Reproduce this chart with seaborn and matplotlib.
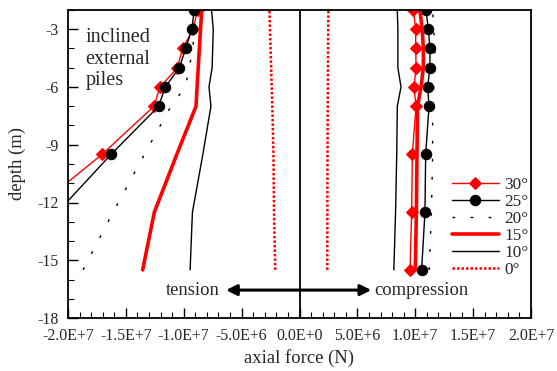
import numpy as np
import pandas as pd
import matplotlib
matplotlib.use("Agg")
import matplotlib.pyplot as plt
import seaborn as sns

# ---------------- data (axial force in units of 1E6 N) ----------------
depths = [-2, -3, -4, -5, -6, -7, -9.5, -12.5, -15.5]
angles = ["30°", "25°", "20°", "15°", "10°", "0°"]

tension_30 = [-8.8, -9.2, -10.1, -10.55, -12.05, -12.57, -17.06, -23.2, -29.3]
tension_25 = [-9.1, -9.3, -9.83, -10.38, -11.6, -12.17, -16.28, -20.9, -25.5]
tension_20 = [-8.9, -9.05, -9.23, -9.52, -9.87, -11.1, -13.4, -16.1, -18.7]
tension_15 = [-8.45, -8.55, -8.65, -8.75, -8.85, -8.94, -10.6, -12.54, -13.55]
tension_10 = [-7.6, -7.45, -7.5, -7.55, -7.82, -7.65, -8.35, -9.25, -9.45]
tension_0 = [-2.6, -2.55, -2.5, -2.45, -2.4, -2.35, -2.25, -2.2, -2.1]

compression_30 = [9.83, 10.04, 10.04, 10.07, 9.89, 10.07, 9.75, 9.69, 9.55]
compression_25 = [10.93, 11.13, 11.27, 11.27, 11.07, 11.19, 10.9, 10.84, 10.55]
compression_20 = [11.5, 11.6, 11.7, 11.7, 11.6, 11.5, 11.5, 11.4, 11.2]
compression_15 = [10.4, 10.6, 10.7, 10.7, 10.5, 10.2, 10.15, 10.1, 10.0]
compression_10 = [8.45, 8.5, 8.5, 8.5, 8.77, 8.45, 8.4, 8.3, 8.15]
compression_0 = [2.5, 2.48, 2.47, 2.46, 2.45, 2.44, 2.42, 2.41, 2.4]

xtick_values = [-2.0e7, -1.5e7, -1.0e7, -5.0e6, 0.0, 5.0e6, 1.0e7, 1.5e7, 2.0e7]
xtick_labels = ["-2.0E+7", "-1.5E+7", "-1.0E+7", "-5.0E+6", "0.0E+0",
                "5.0E+6", "1.0E+7", "1.5E+7", "2.0E+7"]
ytick_values = [-3, -6, -9, -12, -15, -18]
ytick_labels = ["-3", "-6", "-9", "-12", "-15", "-18"]

tension = [tension_30, tension_25, tension_20, tension_15, tension_10, tension_0]
compression = [compression_30, compression_25, compression_20,
               compression_15, compression_10, compression_0]

rows = []
for ang, t, c in zip(angles, tension, compression):
    for d, tv, cv in zip(depths, t, c):
        rows.append({"angle": ang, "side": "tension", "depth": d, "force": tv * 1e6})
        rows.append({"angle": ang, "side": "compression", "depth": d, "force": cv * 1e6})
df = pd.DataFrame(rows)

# ---------------- style ----------------
sns.set_style("ticks")
plt.rcParams["font.family"] = ["Liberation Serif", "DejaVu Serif"]

styles = {
    "30°": dict(color="red", lw=1.0, marker="D", ms=6.5, mec="red", ls="-"),
    "25°": dict(color="black", lw=1.0, marker="o", ms=7.5, mec="black", ls="-"),
    "20°": dict(color="black", lw=1.0, marker=None, ls=(0, (2, 11))),
    "15°": dict(color="red", lw=2.6, marker=None, ls="-"),
    "10°": dict(color="black", lw=1.0, marker=None, ls="-"),
    "0°": dict(color="red", lw=1.8, marker=None, ls=(0, (1, 0.8))),
}

fig = plt.figure(figsize=(5.57, 3.71), dpi=100)
ax = fig.add_axes([68 / 557, 1 - 318 / 371, (531 - 68) / 557, (318 - 10) / 371])

handles = {}
for ang in angles:
    st = styles[ang]
    for side in ["tension", "compression"]:
        sub = df[(df.angle == ang) & (df.side == side)]
        kw = dict(color=st["color"], linewidth=st["lw"], linestyle=st["ls"])
        if st["marker"]:
            kw.update(marker=st["marker"], markersize=st["ms"],
                      markeredgecolor=st["mec"], markerfacecolor=st["color"])
        sns.lineplot(data=sub, x="force", y="depth", orient="y", estimator=None,
                     sort=True, ax=ax, legend=False, **kw)
        handles.setdefault(ang, ax.lines[-1])

ax.axvline(0, color="black", lw=1.3, zorder=1)

ax.set_xlim(-2.0e7, 2.0e7)
ax.set_ylim(-18, -2)
ax.set_xticks(xtick_values)
ax.set_xticklabels(xtick_labels)
ax.set_xticks(np.arange(-2.0e7, 2.0e7 + 1, 1.0e6), minor=True)
ax.set_yticks(ytick_values)
ax.set_yticklabels(ytick_labels)
ax.set_yticks(np.arange(-18, -2 + 0.1, 1), minor=True)
ax.tick_params(axis="both", which="both", direction="in", top=False, right=False,
               labelsize=11.4, color="black")
ax.tick_params(axis="x", which="major", length=7, width=1.0, pad=7)
ax.tick_params(axis="x", which="minor", length=4, width=0.8)
ax.tick_params(axis="y", which="major", length=7, width=1.0, pad=7)
ax.tick_params(axis="y", which="minor", length=4, width=0.8)
for sp in ax.spines.values():
    sp.set_linewidth(1.3)
    sp.set_color("black")

ax.set_xlabel("axial force (N)", fontsize=13.4, labelpad=4)
ax.set_ylabel("depth (m)", fontsize=13.4, labelpad=8)

ax.text(-1.85e7, -2.95, "inclined\nexternal\npiles", fontsize=14.5, va="top",
        ha="left", linespacing=1.18)

ax.annotate("", xy=(-6.35e6, -16.55), xytext=(6.2e6, -16.55),
            arrowprops=dict(arrowstyle="<|-|>", color="black", lw=2.2,
                            mutation_scale=16, shrinkA=0, shrinkB=0))
ax.text(-6.9e6, -16.55, "tension", fontsize=13.4, ha="right", va="center")
ax.text(6.5e6, -16.55, "compression", fontsize=13.4, ha="left", va="center")

leg = ax.legend([handles[a] for a in angles], angles, loc="upper left",
                bbox_to_anchor=((452 - 68) / 463, 1 - (177 - 10) / 308),
                frameon=False, fontsize=12.4, handlelength=2.7, handletextpad=0.35,
                labelspacing=0.05, borderpad=0, borderaxespad=0, numpoints=1)

fig.savefig("out.png", dpi=100)
